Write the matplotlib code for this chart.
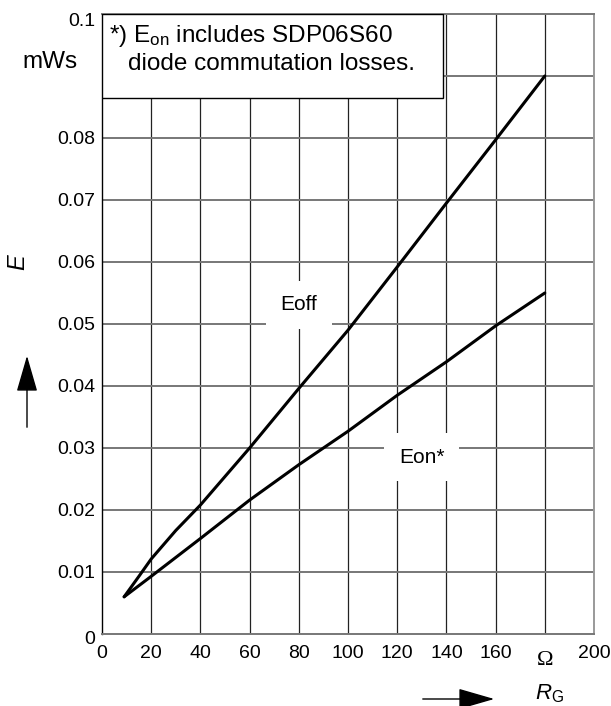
import numpy as np
import matplotlib
matplotlib.use("Agg")
import matplotlib.pyplot as plt
from matplotlib.patches import Rectangle, FancyArrowPatch
from matplotlib.transforms import ScaledTranslation

plt.rcParams['font.family'] = ['Liberation Sans', 'DejaVu Sans']
plt.rcParams['mathtext.fontset'] = 'custom'
plt.rcParams['mathtext.rm'] = 'Liberation Sans'
plt.rcParams['mathtext.it'] = 'Liberation Sans:italic'

# Gate resistance in Ohm, switching energy in mWs
rg_off = [9, 15, 20, 30, 40, 60, 80, 100, 120, 140, 160, 180]
e_off = [0.006, 0.0093, 0.0121, 0.0167, 0.0208, 0.0300, 0.0396, 0.049, 0.0592, 0.0695, 0.0797, 0.090]

rg_on = [9, 20, 40, 60, 80, 100, 120, 140, 160, 180]
e_on = [0.006, 0.0093, 0.0154, 0.0216, 0.0273, 0.0327, 0.0385, 0.0439, 0.0497, 0.055]

xticks = [0, 20, 40, 60, 80, 100, 120, 140, 160, 180, 200]
xlabels = ["0", "20", "40", "60", "80", "100", "120", "140", "160", "Ω", "200"]
yticks = [0, 0.01, 0.02, 0.03, 0.04, 0.05, 0.06, 0.07, 0.08, 0.09, 0.1]
ylabels = ["0", "0.01", "0.02", "0.03", "0.04", "0.05", "0.06", "0.07", "0.08", "", "0.1"]

fig = plt.figure(figsize=(6.11, 7.06), dpi=100)
ax = fig.add_axes([102 / 611, 72 / 706, 492 / 611, 620 / 706])
ax.set_xlim(0, 200)
ax.set_ylim(0, 0.1)

# Gitter
for x in xticks[1:-1]:
    ax.axvline(x, color="#222222", lw=0.9, zorder=1)
for y in yticks[1:-1]:
    ax.axhline(y, color="#777777", lw=1.4, zorder=1)

ax.plot(rg_off, e_off, color="black", lw=2.2, zorder=3, solid_capstyle="round")
ax.plot(rg_on, e_on, color="black", lw=2.2, zorder=3, solid_capstyle="round")

ax.text(80, 0.0531, "Eoff", fontsize=15, ha="center", va="center", zorder=4,
        bbox=dict(boxstyle="square,pad=0.7", fc="white", ec="none"))
ax.text(130, 0.0285, "Eon*", fontsize=15, ha="center", va="center", zorder=4,
        bbox=dict(boxstyle="square,pad=0.7", fc="white", ec="none"))

# Hinweis-Kasten oben links
ax.add_patch(Rectangle((0, 0.0865), 138.6, 0.0135, fc="white", ec="black", lw=1.0, zorder=5))
ax.text(3.0, 0.09548, r"*) E$_\mathrm{on}$ includes SDP06S60", fontsize=17.5, ha="left", va="baseline", zorder=6)
ax.text(10.6, 0.09097, "diode commutation losses.", fontsize=17.5, ha="left", va="baseline", zorder=6)

ax.set_xticks(xticks)
ax.set_xticklabels(xlabels, fontsize=14)
ax.set_yticks(yticks)
ax.set_yticklabels(ylabels, fontsize=14)
ax.tick_params(length=0)
ax.tick_params(axis="x", pad=8)
ax.tick_params(axis="y", pad=5)

xt = ax.get_xticklabels()
xt[9].set_fontfamily("Liberation Serif")
xt[9].set_fontsize(16)
xt[9].set_transform(xt[9].get_transform() + ScaledTranslation(0, -6 / 100, fig.dpi_scale_trans))
yt = ax.get_yticklabels()
yt[0].set_transform(yt[0].get_transform() + ScaledTranslation(0, -4 / 100, fig.dpi_scale_trans))
yt[10].set_transform(yt[10].get_transform() + ScaledTranslation(0, -6 / 100, fig.dpi_scale_trans))

# Einheit statt 0.09
fig.text(50 / 611, 1 - 68 / 706, "mWs", fontsize=17.5, ha="center", va="baseline")

ax.spines["left"].set_color("black")
ax.spines["bottom"].set_color("#777777")
ax.spines["top"].set_color("#777777")
ax.spines["right"].set_color("#999999")
for s in ax.spines.values():
    s.set_linewidth(1.4)
ax.spines["left"].set_linewidth(1.0)

# Achsbeschriftungen mit Pfeilen
fig.text(18 / 611, 1 - 262 / 706, "E", fontsize=17, style="italic", rotation=90, ha="center", va="center")
fig.patches.append(FancyArrowPatch(
    (27 / 611, 1 - 430 / 706), (27 / 611, 1 - 353 / 706), transform=fig.transFigure,
    arrowstyle="-|>,head_length=1.9,head_width=0.55", mutation_scale=12, color="black", lw=1.0))
fig.patches.append(FancyArrowPatch(
    (420 / 611, 1 - 699 / 706), (497 / 611, 1 - 699 / 706), transform=fig.transFigure,
    arrowstyle="-|>,head_length=1.9,head_width=0.55", mutation_scale=12, color="black", lw=1.0))
fig.text(549 / 611, 1 - 694 / 706, r"$\mathit{R}_\mathrm{G}$", fontsize=16, ha="center", va="center")

fig.savefig("out.png", dpi=100)
